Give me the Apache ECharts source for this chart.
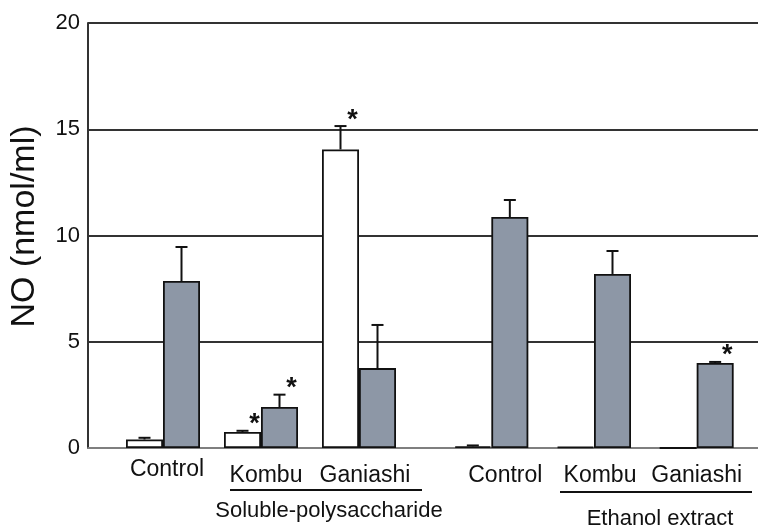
<!DOCTYPE html>
<html>
<head>
<meta charset="utf-8">
<script src="https://cdn.jsdelivr.net/npm/echarts@6/dist/echarts.min.js"></script>
<style>html,body{margin:0;padding:0;background:#fff}#c{width:758px;height:527px}</style>
</head>
<body>
<div id="c"></div>
<script>
// ---- data ----
var categories = ['Control', 'Kombu', 'Ganiashi'];
var yTicks = [0, 5, 10, 15, 20];
var yAxisName = 'NO (nmol/ml)';
var groupNames = ['Soluble-polysaccharide', 'Ethanol extract'];

var solubleWhite    = [0.40, 0.75, 14.05];
var solubleWhiteErr = [0.08, 0.06, 1.10];
var solubleWhiteSig = [0, 1, 1];
var solubleGray     = [7.86, 1.93, 3.76];
var solubleGrayErr  = [1.60, 0.58, 2.03];
var solubleGraySig  = [0, 1, 0];

var ethanolWhite    = [0.08, 0.05, 0];
var ethanolWhiteErr = [0.04, 0, 0];
var ethanolWhiteSig = [0, 0, 0];
var ethanolGray     = [10.87, 8.19, 4.00];
var ethanolGrayErr  = [0.80, 1.08, 0.05];
var ethanolGraySig  = [0, 0, 1];

// ---- chart ----
var FONT = '"Liberation Sans", Arial, Helvetica, sans-serif';
var BAR_W = 37;
var GRAY = '#8d97a6';
var TOP = 23, BOTTOM = 79;

function errData(vals, errs, sigs) {
  return vals.map(function (v, i) { return [i, v, errs[i], sigs[i]]; });
}
function errRender(side) {
  return function (params, api) {
    var i = api.value(0), v = api.value(1), e = api.value(2), s = api.value(3);
    var base = api.coord([i, v]);
    var top = api.coord([i, v + e]);
    var x = base[0] + side * BAR_W / 2;
    var ch = [];
    if (e > 0) {
      ch.push({type: 'line', shape: {x1: x, y1: base[1], x2: x, y2: top[1]},
               style: {stroke: '#111', lineWidth: 2}});
      ch.push({type: 'line', shape: {x1: x - 6, y1: top[1], x2: x + 6, y2: top[1]},
               style: {stroke: '#111', lineWidth: 2}});
    }
    if (s) {
      ch.push({type: 'text', x: x + 12, y: top[1] - 6,
               style: {text: '*', font: 'bold 27px ' + FONT, fill: '#111',
                       align: 'center', verticalAlign: 'middle'}});
    }
    return {type: 'group', children: ch};
  };
}
function catAxis(gridIndex, shifts, drops) {
  var rich = {};
  shifts.forEach(function (s, i) {
    rich['s' + i] = {fontSize: 23, fontFamily: FONT, color: '#111',
                     padding: [drops[i], 0, 0, 2 * s]};
  });
  return {
    type: 'category', gridIndex: gridIndex, data: categories,
    axisLine: {show: false}, axisTick: {show: false},
    axisLabel: {margin: 10, interval: 0,
      formatter: function (val, idx) { return '{s' + idx + '|' + val + '}'; },
      rich: rich}
  };
}
function hiddenY(gridIndex) {
  return {type: 'value', gridIndex: gridIndex, min: 0, max: 20, interval: 5,
          show: false, splitLine: {show: false}};
}
function bars(name, vals, color, xi) {
  return {type: 'bar', name: name, data: vals, xAxisIndex: xi, yAxisIndex: xi,
          barWidth: BAR_W, barGap: '0%', barMinHeight: 0,
          itemStyle: {color: color, borderColor: '#111', borderWidth: 1.8}};
}
function errSeries(vals, errs, sigs, side, xi) {
  return {type: 'custom', data: errData(vals, errs, sigs), xAxisIndex: xi, yAxisIndex: xi,
          renderItem: errRender(side), encode: {x: 0, y: 1}, z: 5, silent: true};
}

var chart = echarts.init(document.getElementById('c'), null, {renderer: 'canvas'});
chart.setOption({
  animation: false,
  backgroundColor: '#fff',
  grid: [
    {left: 88, right: 0, top: TOP, bottom: BOTTOM, containLabel: false, outerBoundsMode: 'none'},
    {left: 114, right: 758 - 408, top: TOP, bottom: BOTTOM, containLabel: false, outerBoundsMode: 'none'},
    {left: 440, right: 758 - 748, top: TOP, bottom: BOTTOM, containLabel: false, outerBoundsMode: 'none'}
  ],
  xAxis: [
    {type: 'value', gridIndex: 0, min: 0, max: 1, axisLabel: {show: false},
     axisTick: {show: false}, splitLine: {show: false},
     axisLine: {show: true, lineStyle: {color: '#999', width: 1.5}}},
    catAxis(1, [4, 5, 6], [0, 6, 6]),
    catAxis(2, [14, 6, 0], [6, 6, 6])
  ],
  yAxis: [
    {type: 'value', gridIndex: 0, min: yTicks[0], max: yTicks[yTicks.length - 1], interval: 5,
     name: yAxisName, nameLocation: 'middle', nameGap: 46, nameRotate: 90,
     nameTextStyle: {fontSize: 34, fontFamily: FONT, color: '#111', padding: [0, 0, 0, 18]},
     axisLine: {show: true, lineStyle: {color: '#333', width: 2}},
     axisTick: {show: false},
     axisLabel: {fontSize: 22, fontFamily: FONT, color: '#111', margin: 8},
     splitLine: {show: true, lineStyle: {color: '#333', width: 2}}},
    hiddenY(1), hiddenY(2)
  ],
  series: [
    bars('Soluble white', solubleWhite, '#fff', 1),
    bars('Soluble gray', solubleGray, GRAY, 1),
    errSeries(solubleWhite, solubleWhiteErr, solubleWhiteSig, -1, 1),
    errSeries(solubleGray, solubleGrayErr, solubleGraySig, 1, 1),
    bars('Ethanol white', ethanolWhite, '#fff', 2),
    bars('Ethanol gray', ethanolGray, GRAY, 2),
    errSeries(ethanolWhite, ethanolWhiteErr, ethanolWhiteSig, -1, 2),
    errSeries(ethanolGray, ethanolGrayErr, ethanolGraySig, 1, 2)
  ],
  graphic: [
    {type: 'line', shape: {x1: 230, y1: 490, x2: 422, y2: 490}, style: {stroke: '#111', lineWidth: 2}},
    {type: 'text', x: 329, y: 511, style: {text: groupNames[0], font: '22px ' + FONT, fill: '#111',
      align: 'center', verticalAlign: 'middle'}},
    {type: 'line', shape: {x1: 560, y1: 492, x2: 752, y2: 492}, style: {stroke: '#111', lineWidth: 2}},
    {type: 'text', x: 660, y: 519, style: {text: groupNames[1], font: '22px ' + FONT, fill: '#111',
      align: 'center', verticalAlign: 'middle'}}
  ]
});
</script>
</body>
</html>
